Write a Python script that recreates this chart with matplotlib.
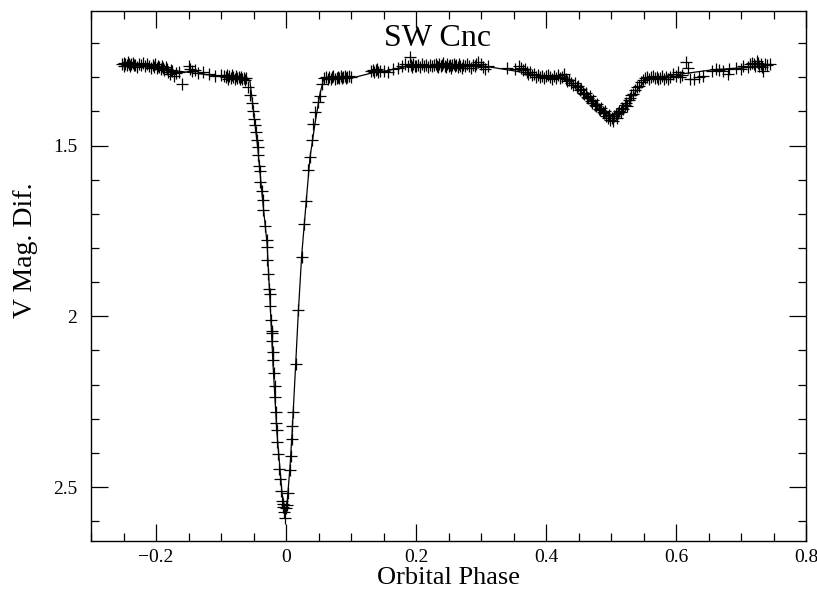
import matplotlib
matplotlib.use("Agg")
import matplotlib.pyplot as plt
from matplotlib.ticker import MultipleLocator

pre_phase = [-0.252, -0.250, -0.249, -0.247, -0.245, -0.243, -0.242, -0.240, -0.238, -0.236,
             -0.234, -0.232, -0.229, -0.226, -0.223, -0.220, -0.217, -0.214, -0.211, -0.208,
             -0.205, -0.203, -0.201, -0.199, -0.197, -0.195, -0.193, -0.191, -0.189, -0.187,
             -0.185, -0.183, -0.181, -0.179, -0.177, -0.175, -0.172, -0.170, -0.165, -0.160,
             -0.150, -0.148, -0.145, -0.140, -0.135, -0.128, -0.118, -0.110, -0.100, -0.095,
             -0.093, -0.091, -0.089, -0.087, -0.085, -0.083, -0.081, -0.079, -0.077, -0.075,
             -0.073, -0.071, -0.069, -0.067, -0.065, -0.063, -0.061]
pre_mag = [1.262, 1.258, 1.266, 1.260, 1.264, 1.256, 1.262, 1.268, 1.261, 1.258,
           1.265, 1.263, 1.270, 1.260, 1.264, 1.257, 1.268, 1.262, 1.266, 1.272,
           1.265, 1.270, 1.262, 1.274, 1.268, 1.270, 1.276, 1.266, 1.272, 1.279,
           1.270, 1.276, 1.284, 1.290, 1.278, 1.283, 1.295, 1.288, 1.285, 1.320,
           1.266, 1.276, 1.283, 1.279, 1.287, 1.284, 1.290, 1.296, 1.294, 1.297,
           1.300, 1.292, 1.304, 1.296, 1.301, 1.293, 1.299, 1.305, 1.297, 1.302,
           1.298, 1.306, 1.300, 1.304, 1.302, 1.307, 1.303]

ingress_phase = [-0.0580, -0.0554, -0.0528, -0.0503, -0.0492, -0.0477, -0.0466, -0.0451, -0.0435,
                 -0.0426, -0.0415, -0.0400, -0.0400, -0.0374, -0.0358, -0.0349, -0.0323, -0.0297,
                 -0.0288, -0.0288, -0.0272, -0.0257, -0.0246, -0.0246, -0.0231, -0.0220, -0.0220,
                 -0.0211, -0.0205, -0.0195, -0.0185, -0.0169, -0.0169, -0.0158, -0.0154, -0.0143,
                 -0.0134, -0.0118, -0.0108, -0.0092, -0.0082, -0.0066, -0.0051, -0.0042, -0.0026,
                 -0.0015]
ingress_mag = [1.330, 1.351, 1.376, 1.398, 1.422, 1.439, 1.461, 1.485, 1.505,
               1.529, 1.561, 1.575, 1.607, 1.632, 1.659, 1.690, 1.736, 1.778,
               1.797, 1.836, 1.875, 1.919, 1.934, 1.971, 2.010, 2.043, 2.048,
               2.072, 2.106, 2.129, 2.166, 2.203, 2.236, 2.280, 2.312, 2.333,
               2.368, 2.404, 2.448, 2.477, 2.511, 2.540, 2.550, 2.558, 2.572,
               2.592]

egress_phase = [0.0000, 0.0011, 0.0035, 0.0062, 0.0072, 0.0088, 0.0097, 0.0112, 0.0149, 0.0189,
                0.0242, 0.0277, 0.0308, 0.0343, 0.0369, 0.0395, 0.0420, 0.0446, 0.0488, 0.0523,
                0.0558]
egress_mag = [2.562, 2.553, 2.518, 2.450, 2.409, 2.358, 2.322, 2.280, 2.140, 1.982,
              1.825, 1.729, 1.661, 1.573, 1.534, 1.485, 1.437, 1.403, 1.373, 1.354,
              1.320]

post_phase = [0.058, 0.061, 0.064, 0.066, 0.069, 0.071, 0.073, 0.076, 0.078, 0.080,
              0.082, 0.084, 0.086, 0.088, 0.090, 0.092, 0.094, 0.097, 0.100,
              0.131, 0.134, 0.136, 0.138, 0.140, 0.142, 0.145, 0.150, 0.157, 0.165,
              0.172, 0.178, 0.183, 0.190, 0.188, 0.192, 0.194, 0.196, 0.198,
              0.200, 0.203, 0.206, 0.209, 0.212, 0.215, 0.218, 0.221, 0.224, 0.227,
              0.230, 0.232, 0.234, 0.236, 0.238, 0.240, 0.242, 0.244, 0.246, 0.248,
              0.250, 0.252, 0.254, 0.256, 0.258, 0.260, 0.262, 0.264, 0.266, 0.268,
              0.270, 0.272, 0.275, 0.278, 0.281, 0.284, 0.287, 0.290, 0.293, 0.296,
              0.300, 0.303, 0.306, 0.310,
              0.340, 0.352, 0.358, 0.361, 0.364, 0.367, 0.370, 0.373, 0.376, 0.379,
              0.382, 0.385, 0.388, 0.391, 0.394, 0.397, 0.400, 0.403, 0.406, 0.409,
              0.412, 0.415, 0.418, 0.421, 0.424, 0.427]
post_mag = [1.303, 1.300, 1.306, 1.298, 1.304, 1.300, 1.296, 1.305, 1.301, 1.298,
            1.303, 1.297, 1.302, 1.299, 1.295, 1.301, 1.298, 1.296, 1.300,
            1.283, 1.278, 1.286, 1.280, 1.276, 1.284, 1.281, 1.283, 1.285, 1.276,
            1.272, 1.268, 1.262, 1.242, 1.268, 1.264, 1.270, 1.262, 1.266,
            1.268, 1.265, 1.270, 1.262, 1.267, 1.264, 1.270, 1.263, 1.268, 1.265,
            1.260, 1.266, 1.270, 1.262, 1.268, 1.264, 1.259, 1.266, 1.270, 1.262,
            1.267, 1.263, 1.272, 1.265, 1.260, 1.268, 1.264, 1.270, 1.262, 1.267,
            1.273, 1.264, 1.268, 1.262, 1.266, 1.272, 1.264, 1.268, 1.260, 1.255,
            1.262, 1.270, 1.275, 1.266,
            1.272, 1.276, 1.268, 1.272, 1.280, 1.276, 1.284, 1.290, 1.286, 1.294,
            1.290, 1.298, 1.292, 1.300, 1.295, 1.302, 1.296, 1.292, 1.300, 1.305,
            1.296, 1.301, 1.294, 1.303, 1.298, 1.291]

secondary_phase = [0.430, 0.433, 0.436, 0.439, 0.442, 0.444, 0.447, 0.449, 0.452, 0.454,
                   0.457, 0.459, 0.461, 0.463, 0.465, 0.467, 0.469, 0.471, 0.473, 0.475,
                   0.477, 0.479, 0.481, 0.483, 0.485, 0.487, 0.489, 0.491, 0.493, 0.495,
                   0.497, 0.499, 0.501, 0.503, 0.505, 0.507, 0.509, 0.511, 0.513, 0.515,
                   0.517, 0.519, 0.521, 0.523, 0.525, 0.527, 0.529, 0.531, 0.534, 0.537,
                   0.540, 0.543, 0.546, 0.549, 0.552, 0.555, 0.558, 0.561, 0.564, 0.567,
                   0.570, 0.573, 0.576, 0.579, 0.582, 0.585, 0.588, 0.591]
secondary_mag = [1.305, 1.312, 1.308, 1.318, 1.322, 1.316, 1.330, 1.326, 1.338, 1.334,
                 1.345, 1.350, 1.346, 1.358, 1.362, 1.356, 1.370, 1.374, 1.366, 1.380,
                 1.385, 1.378, 1.392, 1.396, 1.390, 1.402, 1.406, 1.400, 1.414, 1.420,
                 1.412, 1.425, 1.418, 1.428, 1.414, 1.408, 1.418, 1.404, 1.398, 1.402,
                 1.390, 1.394, 1.382, 1.376, 1.385, 1.368, 1.360, 1.352, 1.348, 1.338,
                 1.330, 1.325, 1.315, 1.308, 1.302, 1.298, 1.305, 1.300, 1.296, 1.303,
                 1.299, 1.306, 1.301, 1.297, 1.304, 1.300, 1.306, 1.298]

late_phase = [0.596, 0.600, 0.603, 0.606, 0.609, 0.616, 0.618, 0.622, 0.627, 0.636,
              0.642, 0.655, 0.662, 0.666, 0.673, 0.680, 0.682, 0.692, 0.700, 0.703,
              0.710, 0.714, 0.717, 0.720, 0.722, 0.724, 0.726, 0.728, 0.730, 0.732,
              0.734, 0.737, 0.740, 0.745]
late_mag = [1.290, 1.296, 1.286, 1.300, 1.292, 1.256, 1.272, 1.306, 1.305, 1.300,
            1.296, 1.283, 1.276, 1.280, 1.283, 1.290, 1.276, 1.272, 1.275, 1.268,
            1.270, 1.262, 1.258, 1.262, 1.266, 1.252, 1.258, 1.266, 1.260, 1.270,
            1.282, 1.262, 1.265, 1.262]

# fitted model curve
model_phase = [-0.25, -0.17, -0.09, -0.058, -0.0554, -0.050, -0.043, -0.037, -0.029, -0.0246,
               -0.020, -0.014, -0.006, -0.001, 0.0015, 0.0062, 0.0097, 0.0149, 0.0189, 0.0242,
               0.0308, 0.0369, 0.0446, 0.0523, 0.058, 0.10, 0.135, 0.155, 0.186, 0.30,
               0.35, 0.39, 0.43, 0.44, 0.46, 0.48, 0.50, 0.52, 0.54, 0.555,
               0.575, 0.59, 0.657, 0.714, 0.74]
model_mag = [1.261, 1.281, 1.300, 1.305, 1.312, 1.398, 1.515, 1.640, 1.790, 1.955,
             2.140, 2.340, 2.520, 2.572, 2.550, 2.440, 2.330, 2.140, 1.990, 1.820,
             1.670, 1.535, 1.436, 1.348, 1.305, 1.303, 1.286, 1.281, 1.268, 1.266,
             1.281, 1.295, 1.296, 1.318, 1.353, 1.385, 1.415, 1.385, 1.338, 1.305,
             1.300, 1.295, 1.278, 1.271, 1.266]

SERIF = "Liberation Serif"

fig = plt.figure(figsize=(8.17, 5.95), dpi=100)
ax = fig.add_axes([91 / 817, 54 / 595, 715 / 817, 530 / 595])

obs_phase = pre_phase + ingress_phase + egress_phase + post_phase + secondary_phase + late_phase
obs_mag = pre_mag + ingress_mag + egress_mag + post_mag + secondary_mag + late_mag
ax.plot(obs_phase, obs_mag, ls="none", marker="+", ms=8, mew=0.9, color="black")
ax.plot(model_phase, model_mag, color="black", lw=0.9)

ax.set_xlim(-0.3, 0.8)
ax.set_ylim(2.658, 1.106)
ax.xaxis.set_major_locator(MultipleLocator(0.2))
ax.xaxis.set_minor_locator(MultipleLocator(0.05))
ax.yaxis.set_major_locator(MultipleLocator(0.5))
ax.yaxis.set_minor_locator(MultipleLocator(0.1))
ax.xaxis.set_major_formatter(plt.FuncFormatter(lambda v, p: f"{v:g}".replace("-", "\u2212")))
ax.yaxis.set_major_formatter(plt.FuncFormatter(lambda v, p: f"{v:g}"))
ax.tick_params(which="both", direction="in", top=True, right=True, width=0.9, color="black")
ax.tick_params(which="major", length=12)
ax.tick_params(which="minor", length=6)
ax.tick_params(axis="x", pad=6)
ax.tick_params(axis="y", pad=10)
for lab in ax.get_xticklabels() + ax.get_yticklabels():
    lab.set_fontfamily(SERIF)
    lab.set_fontsize(14)
for sp in ax.spines.values():
    sp.set_linewidth(1.0)

ax.set_xlabel("Orbital Phase", family=SERIF, fontsize=19)
ax.set_ylabel("V Mag. Dif.", family=SERIF, fontsize=20)
ax.xaxis.set_label_coords(0.5, -0.05)
ax.yaxis.set_label_coords(-0.074, 0.549)

ax.text(0.485, 0.949, "SW Cnc", transform=ax.transAxes, ha="center", va="center",
        family=SERIF, fontsize=23)

fig.savefig("out.png", dpi=100)
